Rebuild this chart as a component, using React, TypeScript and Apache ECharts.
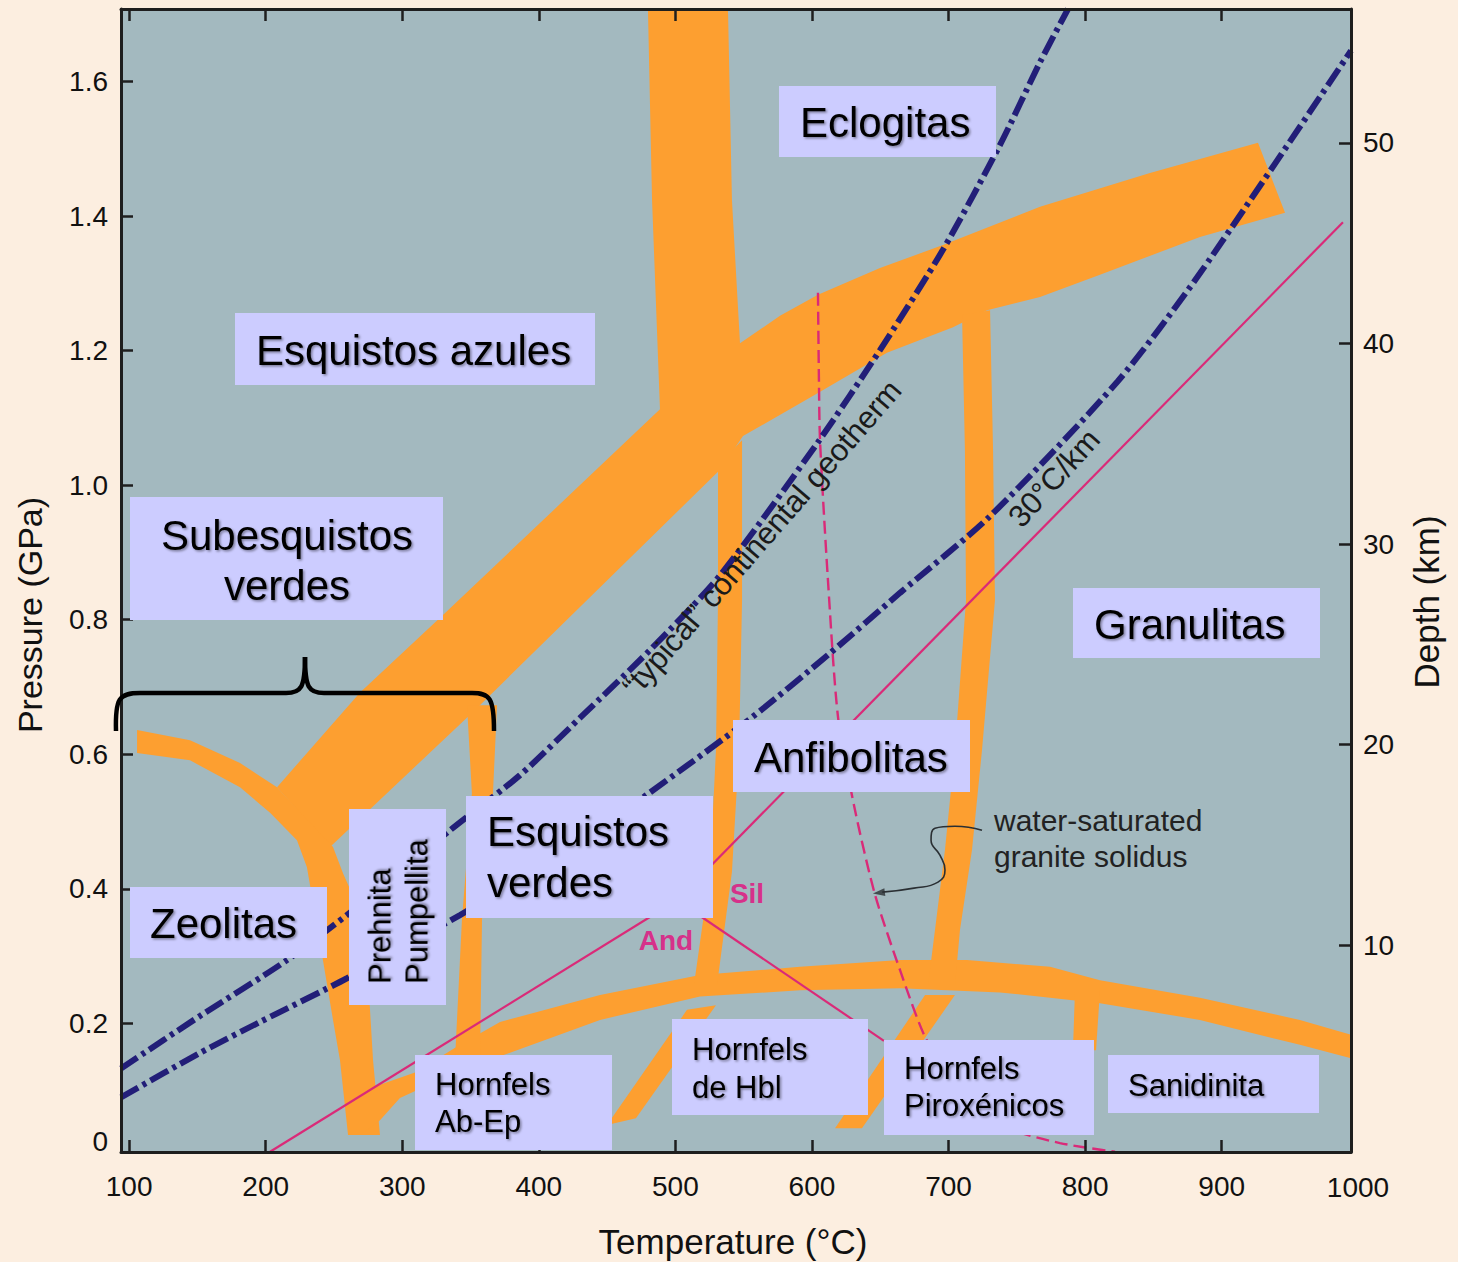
import React, { useEffect, useRef } from "react";
import * as echarts from "echarts";

// ---------- axes ----------
const T_MIN = 94.05;
const T_MAX = 994.7;
const P_MIN = 0.0087;
const P_MAX = 1.708;
const D_MIN = -0.32;
const D_MAX = 56.68;

const tempTicks = [100, 200, 300, 400, 500, 600, 700, 800, 900];
const pressureTicks = [0.2, 0.4, 0.6, 0.8, 1.0, 1.2, 1.4, 1.6];
const depthTicks = [10, 20, 30, 40, 50];

// ---------- orange facies-boundary bands, [T (°C), P (GPa)] ----------
const bandBlueschist = [
  [208.3, 0.551], [269.1, 0.692], [329.8, 0.807], [415.5, 0.972], [488.7, 1.113],
  [482.9, 1.424], [479.9, 1.708], [538.5, 1.708], [541.4, 1.424], [547.3, 1.211],
  [576.6, 1.252], [604.4, 1.283], [649.8, 1.323], [695.9, 1.357], [767.0, 1.414],
  [847.5, 1.464], [926.6, 1.509], [946.4, 1.405], [884.1, 1.369], [810.9, 1.313],
  [767.0, 1.28], [728.2, 1.26], [703.3, 1.235], [654.9, 1.197], [604.4, 1.137],
  [549.5, 1.073], [532.7, 1.023], [351.8, 0.663], [247.1, 0.462],
];
const bandZeolite = [
  [105.8, 0.636], [144.6, 0.621], [181.2, 0.587], [208.3, 0.551], [225.1, 0.514],
  [249.3, 0.462], [256.6, 0.423], [265.4, 0.383], [274.2, 0.294], [278.6, 0.145],
  [283.7, 0.034], [260.3, 0.034], [254.4, 0.145], [249.3, 0.205], [241.9, 0.294],
  [230.2, 0.432], [222.9, 0.472], [203.2, 0.513], [181.2, 0.551], [144.6, 0.591],
  [105.8, 0.602],
];
const bandContact = [
  [261.7, 0.093], [309.3, 0.127], [342.3, 0.168], [371.6, 0.202], [444.8, 0.242],
  [518.0, 0.272], [591.2, 0.284], [664.5, 0.294], [713.5, 0.294], [774.3, 0.284],
  [810.9, 0.264], [884.1, 0.238], [957.3, 0.205], [994.7, 0.183],
  [994.7, 0.148], [957.3, 0.168], [884.1, 0.205], [810.9, 0.23], [737.7, 0.246],
  [664.5, 0.252], [591.2, 0.249], [518.0, 0.24], [444.8, 0.205], [371.6, 0.151],
  [335.0, 0.123], [298.3, 0.089], [283.7, 0.056], [269.1, 0.034], [261.7, 0.034],
];
const bandGreenAmph = [
  [531.2, 1.03], [548.8, 1.067], [548.8, 0.829], [546.6, 0.606], [541.4, 0.425],
  [530.5, 0.257], [513.6, 0.257], [525.3, 0.425], [529.7, 0.606], [531.2, 0.829],
];
const bandAmphGran = [
  [709.9, 1.253], [730.4, 1.26], [732.6, 1.052], [734.0, 0.829], [724.5, 0.606],
  [717.2, 0.458], [708.4, 0.339], [704.7, 0.257], [685.0, 0.257], [690.1, 0.339],
  [697.4, 0.458], [704.7, 0.606], [712.8, 0.829], [712.0, 1.052],
];
const bandPrehnite = [
  [347.4, 0.673], [369.4, 0.673], [366.4, 0.542], [358.4, 0.354], [356.9, 0.145],
  [338.6, 0.145], [343.7, 0.354], [351.0, 0.542],
];
const bandHornfelsA = [[449.9, 0.049], [508.5, 0.22], [529.7, 0.227], [471.1, 0.059]];
const bandHornfelsB = [[616.9, 0.044], [682.8, 0.242], [704.7, 0.242], [636.6, 0.044]];
const bandHornfelsC = [[792.6, 0.249], [810.9, 0.249], [808.0, 0.16], [791.1, 0.16]];

const bands = [
  bandBlueschist, bandZeolite, bandContact, bandGreenAmph, bandAmphGran,
  bandPrehnite, bandHornfelsA, bandHornfelsB, bandHornfelsC,
];

// ---------- lines ----------
const geothermTypical = [
  [94.05, 0.133], [151.9, 0.211], [215.6, 0.294], [276.4, 0.388], [335.0, 0.487],
  [386.2, 0.569], [430.1, 0.654], [481.4, 0.755], [532.7, 0.866], [604.4, 1.064],
  [649.8, 1.201], [695.9, 1.35], [737.7, 1.506], [767.0, 1.629], [787.5, 1.708],
];
const geotherm30 = [
  [94.05, 0.09], [151.9, 0.156], [195.8, 0.202], [259.5, 0.267], [342.3, 0.361],
  [415.5, 0.45], [478.5, 0.539], [556.1, 0.655], [612.5, 0.749], [664.5, 0.84],
  [730.4, 0.954], [824.1, 1.155], [884.1, 1.315], [994.7, 1.646],
];
const kyAnd = [[203.2, 0.009], [501.2, 0.383]];
const kySil = [[501.2, 0.383], [988.8, 1.391]];
const andSil = [[501.2, 0.383], [652.7, 0.174]];
const graniteSolidus = [
  [604.4, 1.286], [605.1, 1.156], [605.9, 1.066], [611.7, 0.859], [619.1, 0.655],
  [631.5, 0.517], [646.2, 0.391], [664.5, 0.279], [683.5, 0.177], [708.4, 0.101],
  [745.0, 0.044], [781.6, 0.022], [821.9, 0.009],
];
const solidusPointer = [
  [724.5, 0.487], [704.7, 0.493], [690.1, 0.49], [687.2, 0.472], [693.7, 0.45],
  [697.4, 0.428], [692.3, 0.41], [674.7, 0.401], [651.5, 0.395],
];
const pointerTip = [[649.0, 0.394]];

// ---------- style ----------
const FONT = '"Liberation Sans", Arial, Helvetica, sans-serif';
const ORANGE = "#FD9F30";
const NAVY = "#221E78";
const PINK = "#DA2A78";
const PINK_TEXT = "#D6318A";
const BOX = "#CCCCFF";
const AXIS = "#1E1E1E";

const boxLabels = [
  { r: [779, 86, 217, 71], text: "Eclogitas", tx: 800, ty: 122, size: 42, lh: 48 },
  { r: [235, 313, 360, 72], text: "Esquistos azules", tx: 256, ty: 350, size: 42, lh: 48 },
  { r: [130, 497, 313, 123], text: "Subesquistos\nverdes", tx: 287, ty: 560, size: 42, lh: 50, center: true },
  { r: [130, 887, 197, 71], text: "Zeolitas", tx: 150, ty: 923, size: 42, lh: 48 },
  { r: [466, 796, 247, 122], text: "Esquistos\nverdes", tx: 487, ty: 857, size: 42, lh: 51 },
  { r: [733, 720, 237, 72], text: "Anfibolitas", tx: 754, ty: 757, size: 42, lh: 48 },
  { r: [1073, 588, 247, 70], text: "Granulitas", tx: 1094, ty: 624, size: 42, lh: 48 },
  { r: [415, 1055, 197, 95], text: "Hornfels\nAb-Ep", tx: 435, ty: 1103, size: 31, lh: 37 },
  { r: [672, 1019, 196, 96], text: "Hornfels\nde Hbl", tx: 692, ty: 1068, size: 31, lh: 38 },
  { r: [884, 1040, 210, 95], text: "Hornfels\nPiroxénicos", tx: 904, ty: 1087, size: 31, lh: 37 },
  { r: [1108, 1055, 211, 58], text: "Sanidinita", tx: 1128, ty: 1085, size: 31, lh: 36 },
];

const shadow = {
  textShadowColor: "rgba(0,0,0,0.4)",
  textShadowBlur: 2,
  textShadowOffsetX: 1.5,
  textShadowOffsetY: 1.5,
};

function buildGraphic() {
  const els: any[] = [];
  boxLabels.forEach((b) => {
    els.push({
      type: "rect",
      z: 100,
      shape: { x: b.r[0], y: b.r[1], width: b.r[2], height: b.r[3] },
      style: { fill: BOX },
      silent: true,
    });
    els.push({
      type: "text",
      z: 101,
      x: b.tx,
      y: b.ty,
      silent: true,
      style: {
        text: b.text,
        fill: "#000",
        fontSize: b.size,
        fontFamily: FONT,
        align: b.center ? "center" : "left",
        textAlign: b.center ? "center" : "left",
        verticalAlign: "middle",
        textVerticalAlign: "middle",
        lineHeight: b.lh,
        ...shadow,
      },
    });
  });
  // rotated Prehnita / Pumpellita box
  els.push({
    type: "rect",
    z: 100,
    shape: { x: 349, y: 809, width: 97, height: 196 },
    style: { fill: BOX },
    silent: true,
  });
  els.push({
    type: "text",
    z: 101,
    x: 398.5,
    y: 984,
    rotation: Math.PI / 2,
    silent: true,
    style: {
      text: "Prehnita\nPumpellita",
      fill: "#000",
      fontSize: 31,
      fontFamily: FONT,
      align: "left",
      textAlign: "left",
      verticalAlign: "middle",
      textVerticalAlign: "middle",
      lineHeight: 37.5,
      ...shadow,
    },
  });

  const plain = (text: string, x: number, y: number, size: number, opts: any = {}) => ({
    type: "text",
    z: 95,
    x,
    y,
    rotation: opts.rotation || 0,
    silent: true,
    style: {
      text,
      fill: opts.fill || "#1A1A1A",
      fontSize: size,
      fontFamily: FONT,
      fontWeight: opts.weight || "normal",
      align: opts.align || "center",
      textAlign: opts.align || "center",
      verticalAlign: "middle",
      textVerticalAlign: "middle",
      lineHeight: opts.lh || size * 1.2,
    },
  });

  els.push(plain("\u201Ctypical\u201D continental geotherm", 762, 538, 31, { rotation: (49 * Math.PI) / 180 }));
  els.push(plain("30\u00B0C/km", 1054, 478, 31, { rotation: (48 * Math.PI) / 180 }));
  els.push(plain("water-saturated\ngranite solidus", 994, 838, 30, { align: "left", lh: 36, fill: "#222" }));
  els.push(plain("Sil", 747, 893, 28, { fill: PINK_TEXT, weight: "bold" }));
  els.push(plain("And", 666, 940, 28, { fill: PINK_TEXT, weight: "bold" }));

  // axis titles and end labels
  els.push(plain("Pressure (GPa)", 30, 615, 34, { rotation: Math.PI / 2, fill: "#111" }));
  els.push(plain("Temperature (\u00B0C)", 733, 1241, 35, { fill: "#111" }));
  els.push(plain("Depth (km)", 1426, 602, 35, { rotation: Math.PI / 2, fill: "#111" }));
  els.push(plain("0", 108, 1141, 28, { align: "right", fill: "#111" }));
  els.push(plain("1000", 1358, 1187, 28, { fill: "#111" }));

  // curly bracket
  const bs = { stroke: "#000", lineWidth: 4.5, fill: "none" };
  els.push({
    type: "group",
    z: 96,
    silent: true,
    children: [
      { type: "bezierCurve", z: 96, shape: { x1: 116, y1: 731, cpx1: 115, cpy1: 698, cpx2: 119, cpy2: 693, x2: 140, y2: 693 }, style: bs },
      { type: "line", z: 96, shape: { x1: 140, y1: 693, x2: 286, y2: 693 }, style: bs },
      { type: "bezierCurve", z: 96, shape: { x1: 286, y1: 693, cpx1: 301, cpy1: 693, cpx2: 305, cpy2: 688, x2: 305, y2: 657 }, style: bs },
      { type: "bezierCurve", z: 96, shape: { x1: 305, y1: 657, cpx1: 305, cpy1: 688, cpx2: 309, cpy2: 693, x2: 324, y2: 693 }, style: bs },
      { type: "line", z: 96, shape: { x1: 324, y1: 693, x2: 472, y2: 693 }, style: bs },
      { type: "bezierCurve", z: 96, shape: { x1: 472, y1: 693, cpx1: 490, cpy1: 693, cpx2: 494, cpy2: 698, x2: 494, y2: 731 }, style: bs },
    ],
  });
  return els;
}

const axisLabelStyle = { color: "#111", fontSize: 28, fontFamily: FONT };

function buildOption(): any {
  const lineSeries = (data: number[][], color: string, width: number, type: any, smooth: any = false) => ({
    type: "line",
    data,
    xAxisIndex: 0,
    yAxisIndex: 0,
    showSymbol: false,
    symbol: "none",
    smooth,
    silent: true,
    z: 4,
    lineStyle: { color, width, type, cap: "butt" },
  });

  return {
    animation: false,
    backgroundColor: "#FCEEE0",
    grid: {
      left: 121,
      right: 107,
      top: 9,
      bottom: 110,
      show: true,
      backgroundColor: "#A3B9BF",
      borderWidth: 0,
      containLabel: false,
      outerBoundsMode: "none",
    },
    xAxis: [
      {
        type: "value",
        min: T_MIN,
        max: T_MAX,
        position: "bottom",
        z: 10,
        axisLine: { show: true, onZero: false, lineStyle: { color: AXIS, width: 3 } },
        axisTick: { show: true, inside: true, length: 12, customValues: tempTicks, lineStyle: { color: AXIS, width: 2.5 } },
        axisLabel: { show: true, margin: 20, customValues: tempTicks, ...axisLabelStyle },
        splitLine: { show: false },
      },
      {
        type: "value",
        min: T_MIN,
        max: T_MAX,
        position: "top",
        z: 10,
        axisLine: { show: true, onZero: false, lineStyle: { color: AXIS, width: 3 } },
        axisTick: { show: true, inside: true, length: 12, customValues: tempTicks, lineStyle: { color: AXIS, width: 2.5 } },
        axisLabel: { show: false },
        splitLine: { show: false },
      },
    ],
    yAxis: [
      {
        type: "value",
        min: P_MIN,
        max: P_MAX,
        position: "left",
        z: 10,
        axisLine: { show: true, onZero: false, lineStyle: { color: AXIS, width: 3 } },
        axisTick: { show: true, inside: true, length: 12, customValues: pressureTicks, lineStyle: { color: AXIS, width: 2.5 } },
        axisLabel: {
          show: true,
          margin: 13,
          customValues: pressureTicks,
          formatter: (v: number) => v.toFixed(1),
          ...axisLabelStyle,
        },
        splitLine: { show: false },
      },
      {
        type: "value",
        min: D_MIN,
        max: D_MAX,
        position: "right",
        z: 10,
        axisLine: { show: true, onZero: false, lineStyle: { color: AXIS, width: 3 } },
        axisTick: { show: true, inside: true, length: 12, customValues: depthTicks, lineStyle: { color: AXIS, width: 2.5 } },
        axisLabel: { show: true, margin: 12, customValues: depthTicks, ...axisLabelStyle },
        splitLine: { show: false },
      },
    ],
    series: [
      {
        type: "custom",
        coordinateSystem: "cartesian2d",
        xAxisIndex: 0,
        yAxisIndex: 0,
        silent: true,
        clip: true,
        z: 2,
        data: bands.map((b) => b[0]),
        renderItem: (params: any, api: any) => ({
          type: "polygon",
          shape: { points: bands[params.dataIndex].map((p) => api.coord(p)) },
          style: { fill: ORANGE },
        }),
      },
      lineSeries(kyAnd, PINK, 2.2, "solid"),
      lineSeries(kySil, PINK, 2.2, "solid"),
      lineSeries(andSil, PINK, 2.2, "solid"),
      lineSeries(graniteSolidus, PINK, 2.4, [13, 6], 0.25),
      lineSeries(geotherm30, NAVY, 6, [20, 5, 4, 5], 0.25),
      lineSeries(geothermTypical, NAVY, 6, [20, 5, 4, 5], 0.25),
      {
        type: "line",
        data: solidusPointer,
        showSymbol: false,
        symbol: "none",
        smooth: 0.5,
        silent: true,
        z: 5,
        lineStyle: { color: "#2A2F33", width: 1.6 },
      },
      {
        type: "scatter",
        data: pointerTip,
        symbol: "triangle",
        symbolSize: [8, 12],
        symbolRotate: 97,
        silent: true,
        z: 5,
        itemStyle: { color: "#2A2F33" },
      },
    ],
    graphic: { elements: buildGraphic() },
  };
}

export default function App() {
  const ref = useRef<HTMLDivElement>(null);
  useEffect(() => {
    if (!ref.current) return;
    const chart = echarts.init(ref.current, null, { renderer: "svg" });
    chart.setOption(buildOption());
    return () => chart.dispose();
  }, []);
  return (
    <div
      ref={ref}
      style={{ position: "absolute", left: 0, top: 0, width: 1458, height: 1262 }}
    />
  );
}
